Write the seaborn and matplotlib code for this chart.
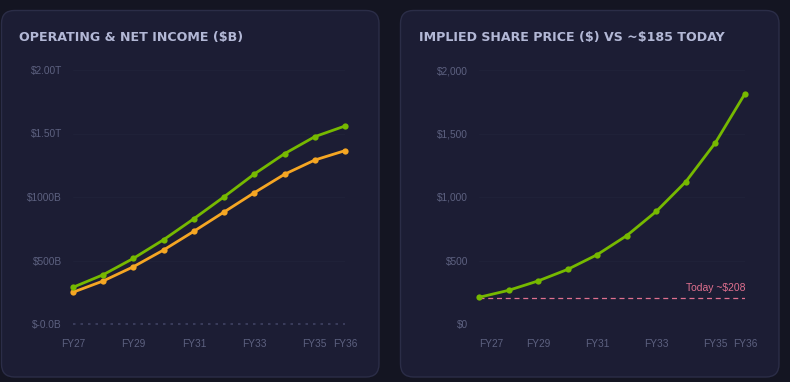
import matplotlib
matplotlib.use("Agg")
import matplotlib.pyplot as plt
import matplotlib.transforms as mtransforms
from matplotlib.patches import FancyBboxPatch
import seaborn as sns
import pandas as pd

years = ["FY27", "FY28", "FY29", "FY30", "FY31", "FY32", "FY33", "FY34", "FY35", "FY36"]
operating_income = [289, 388, 517, 664, 829, 1002, 1181, 1341, 1475, 1559]
net_income = [250, 339, 451, 583, 730, 882, 1034, 1179, 1291, 1365]
share_price = [210, 265, 339, 430, 546, 696, 887, 1121, 1428, 1814]
today_price = 208
income_ticks = [0, 500, 1000, 1500, 2000]
income_tick_labels = ["$-0.0B", "$500B", "$1000B", "$1.50T", "$2.00T"]
price_ticks = [0, 500, 1000, 1500, 2000]
price_tick_labels = ["$0", "$500", "$1,000", "$1,500", "$2,000"]
shown_x = ["FY27", "FY29", "FY31", "FY33", "FY35", "FY36"]

PAGE = "#141522"
CARD = "#1c1d34"
BORDER = "#2b2d47"
GRID = "#1f2138"
TICK = "#5d6180"
TITLE = "#b3b8d6"
GREEN = "#76b900"
ORANGE = "#f5a623"
PINK = "#e0708f"

sns.set_theme(style="dark")
plt.rcParams["font.family"] = ["Liberation Sans", "DejaVu Sans"]

W, H = 790, 382
fig = plt.figure(figsize=(W / 100, H / 100), dpi=100, facecolor=PAGE)

def card(x0, y0, x1, y1):
    p = FancyBboxPatch((x0 / W, 1 - y1 / H), (x1 - x0) / W, (y1 - y0) / H,
                       boxstyle="round,pad=0,rounding_size=0.0165",
                       transform=fig.transFigure, facecolor=CARD,
                       edgecolor=BORDER, linewidth=1, mutation_aspect=W / H,
                       zorder=-10)
    fig.patches.append(p)

card(1.5, 10.5, 379, 377)
card(400.5, 10.5, 779, 377)

def make_ax(xl, xr, yt, yb):
    return fig.add_axes([xl / W, 1 - yb / H, (xr - xl) / W, (yb - yt) / H])

def style(ax, ticks, labels):
    ax.set_facecolor("none")
    for s in ax.spines.values():
        s.set_visible(False)
    ax.set_xlim(0, len(years) - 1)
    ax.set_ylim(0, 2000)
    ax.set_yticks(ticks)
    ax.set_yticklabels(labels)
    idx = [years.index(y) for y in shown_x]
    ax.set_xticks(idx)
    ax.set_xticklabels(shown_x)
    ax.tick_params(axis="both", colors=TICK, labelsize=7.3, length=0)
    ax.tick_params(axis="y", pad=8)
    ax.tick_params(axis="x", pad=11)
    ax.grid(False)
    for t in ticks[1:]:
        ax.axhline(t, color=GRID, linewidth=1, zorder=1)
    ax.set_xlabel("")
    ax.set_ylabel("")

df = pd.DataFrame({"year": list(range(len(years))),
                   "op": operating_income, "net": net_income, "price": share_price})

# Left chart
ax1 = make_ax(73, 345, 70, 324)
ax1.plot([0, 9], [0, 0], color="#3f4262", linewidth=1.2, linestyle=(0, (1.5, 3)),
         zorder=2, clip_on=False)
sns.lineplot(data=df, x="year", y="op", ax=ax1, color=GREEN, linewidth=2,
             marker="o", markersize=4.5, markeredgewidth=0, clip_on=False, zorder=4)
sns.lineplot(data=df, x="year", y="net", ax=ax1, color=ORANGE, linewidth=2,
             marker="o", markersize=4.5, markeredgewidth=0, clip_on=False, zorder=3)
style(ax1, income_ticks, income_tick_labels)

# Right chart
ax2 = make_ax(479, 745, 70, 324)
ax2.plot([0, 9], [today_price, today_price], color=PINK, linewidth=0.9,
         linestyle=(0, (4, 3)), zorder=2)
sns.lineplot(data=df, x="year", y="price", ax=ax2, color=GREEN, linewidth=2,
             marker="o", markersize=4.5, markeredgewidth=0, clip_on=False, zorder=4)
style(ax2, price_ticks, price_tick_labels)
ax2.text(9, today_price + 35, "Today ~$208", color=PINK, fontsize=7.5,
         ha="right", va="bottom", parse_math=False)
first = ax2.get_xticklabels()[0]
first.set_transform(first.get_transform() +
                    mtransforms.ScaledTranslation(12 / 100, 0, fig.dpi_scale_trans))

fig.text(19 / W, 1 - 38 / H, "OPERATING & NET INCOME ($B)", color=TITLE,
         fontsize=9.1, fontweight="bold", family="DejaVu Sans", va="center", ha="left",
         parse_math=False)
fig.text(419 / W, 1 - 38 / H, "IMPLIED SHARE PRICE ($) VS ~$185 TODAY", color=TITLE,
         fontsize=9.1, fontweight="bold", family="DejaVu Sans", va="center", ha="left",
         parse_math=False)

fig.savefig("out.png", dpi=100, facecolor=PAGE)
